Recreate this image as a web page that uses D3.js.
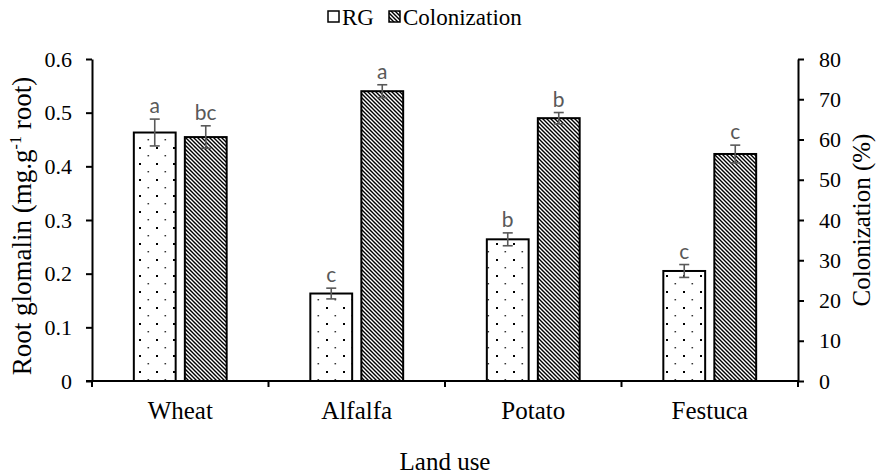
<!DOCTYPE html>
<html>
<head>
<meta charset="utf-8">
<script src="https://cdn.jsdelivr.net/npm/d3@7"></script>
<style>
  body { margin: 0; background: #fff; }
  svg { display: block; }
</style>
</head>
<body>
<div id="chart"></div>
<script>
const categories = ['Wheat', 'Alfalfa', 'Potato', 'Festuca'];
const rgValues = [0.463, 0.163, 0.264, 0.205];
const rgErrors = [0.025, 0.010, 0.012, 0.012];
const rgLetters = ['a', 'c', 'b', 'c'];
const colValues = [60.6, 72.0, 65.3, 56.4];
const colErrors = [2.8, 1.6, 1.4, 2.2];
const colLetters = ['bc', 'a', 'b', 'c'];
const leftTicks = [0, 0.1, 0.2, 0.3, 0.4, 0.5, 0.6];
const rightTicks = [0, 10, 20, 30, 40, 50, 60, 70, 80];

const W = 880, H = 474;
const margin = { top: 59, right: 82, bottom: 93, left: 92 };
const serif = '"Liberation Serif", "Times New Roman", serif';
const sans = 'Lato, Carlito, "Open Sans", sans-serif';

const svg = d3.select('#chart').append('svg').attr('width', W).attr('height', H);
const defs = svg.append('defs');

// dotted fill for RG
const dots = defs.append('pattern')
  .attr('id', 'dots').attr('patternUnits', 'userSpaceOnUse')
  .attr('width', 17).attr('height', 16);
dots.append('rect').attr('width', 17).attr('height', 16).attr('fill', '#fff');
dots.append('rect').attr('x', 3).attr('y', 3).attr('width', 2).attr('height', 2).attr('fill', '#000');
dots.append('rect').attr('x', 11.5).attr('y', 11).attr('width', 1.6).attr('height', 1.4).attr('fill', '#333');

// dark downward diagonal fill for Colonization
const diag = defs.append('pattern')
  .attr('id', 'diag').attr('patternUnits', 'userSpaceOnUse')
  .attr('width', 4).attr('height', 4);
diag.append('rect').attr('width', 4).attr('height', 4).attr('fill', '#fff');
diag.append('path')
  .attr('d', 'M-1,-1L5,5M-1,3L1,5M3,-1L5,1')
  .attr('stroke', '#000').attr('stroke-width', 1.4);

const x0 = d3.scaleBand().domain(categories)
  .range([margin.left, W - margin.right]).padding(0);
const x1 = d3.scaleBand().domain(['rg', 'col'])
  .range([0, x0.bandwidth()]).paddingInner(0.18).paddingOuter(0.82);
const yL = d3.scaleLinear().domain([0, 0.6]).range([H - margin.bottom, margin.top]);
const yR = d3.scaleLinear().domain([0, 80]).range([H - margin.bottom, margin.top]);

const y0 = H - margin.bottom;

// bars
const series = [
  { key: 'rg', vals: rgValues, errs: rgErrors, letters: rgLetters, y: yL, fill: 'url(#dots)' },
  { key: 'col', vals: colValues, errs: colErrors, letters: colLetters, y: yR, fill: 'url(#diag)' },
];

series.forEach((s) => {
  const g = svg.append('g').attr('class', 'bars-' + s.key);
  const rows = categories.map((c, i) => ({ c, v: s.vals[i], e: s.errs[i], l: s.letters[i] }));
  const bx = (d) => x0(d.c) + x1(s.key);
  const bw = x1.bandwidth();

  g.selectAll('rect').data(rows).enter().append('rect')
    .attr('x', bx).attr('width', bw)
    .attr('y', (d) => s.y(d.v)).attr('height', (d) => y0 - s.y(d.v))
    .attr('fill', s.fill).attr('stroke', '#000').attr('stroke-width', 2);

  const eb = g.selectAll('.err').data(rows).enter().append('g')
    .attr('stroke', '#595959').attr('stroke-width', 1.6);
  eb.append('line').attr('x1', (d) => bx(d) + bw / 2).attr('x2', (d) => bx(d) + bw / 2)
    .attr('y1', (d) => s.y(d.v + d.e)).attr('y2', (d) => s.y(d.v - d.e));
  [1, -1].forEach((sg) => {
    eb.append('line').attr('x1', (d) => bx(d) + bw / 2 - 5).attr('x2', (d) => bx(d) + bw / 2 + 5)
      .attr('y1', (d) => s.y(d.v + sg * d.e)).attr('y2', (d) => s.y(d.v + sg * d.e));
  });

  g.selectAll('.lbl').data(rows).enter().append('text')
    .attr('x', (d) => bx(d) + bw / 2)
    .attr('y', (d) => s.y(d.v + d.e) - 6)
    .attr('text-anchor', 'middle')
    .style('font-family', sans).style('font-size', '21px').style('fill', '#595959')
    .text((d) => d.l);
});

// axes
const axisStyle = (g) => {
  g.attr('font-family', null);
  g.selectAll('path.domain').attr('stroke', '#000').attr('stroke-width', 2);
  g.selectAll('.tick line').attr('stroke', '#000').attr('stroke-width', 2);
  g.selectAll('text').style('font-family', serif).style('font-size', '22px').style('fill', '#000');
};

svg.append('g').attr('transform', `translate(${margin.left},0)`)
  .call(d3.axisLeft(yL).tickValues(leftTicks).tickSize(6).tickSizeOuter(0)
    .tickPadding(14).tickFormat((d) => (d === 0 ? '0' : d3.format('.1f')(d))))
  .call(axisStyle);

svg.append('g').attr('transform', `translate(${W - margin.right},0)`)
  .call(d3.axisRight(yR).tickValues(rightTicks).tickSize(6).tickSizeOuter(0).tickPadding(15))
  .call(axisStyle);

// x axis with ticks at category boundaries
const xg = svg.append('g');
xg.append('line').attr('x1', margin.left - 6).attr('x2', W - margin.right)
  .attr('y1', y0).attr('y2', y0).attr('stroke', '#000').attr('stroke-width', 2);
const bounds = categories.map((c) => x0(c)).concat([x0.range()[1]]);
xg.selectAll('.xt').data(bounds).enter().append('line')
  .attr('x1', (d) => d).attr('x2', (d) => d).attr('y1', y0).attr('y2', y0 + 6)
  .attr('stroke', '#000').attr('stroke-width', 2);
xg.selectAll('.xl').data(categories).enter().append('text')
  .attr('x', (d) => x0(d) + x0.bandwidth() / 2).attr('y', 419)
  .attr('text-anchor', 'middle')
  .style('font-family', serif).style('font-size', '25px')
  .text((d) => d);

// axis titles
svg.append('text').attr('x', (margin.left + W - margin.right) / 2).attr('y', 470)
  .attr('text-anchor', 'middle').style('font-family', serif).style('font-size', '25px')
  .text('Land use');

const lt = svg.append('text')
  .attr('transform', `translate(31,${(margin.top + y0) / 2 + 6}) rotate(-90)`)
  .attr('text-anchor', 'middle').style('font-family', serif).style('font-size', '27px');
lt.append('tspan').text('Root glomalin (mg.g');
lt.append('tspan').attr('dy', -10).style('font-size', '16px').text('-1');
lt.append('tspan').attr('dy', 10).text(' root)');

svg.append('text')
  .attr('transform', `translate(870,${(margin.top + y0) / 2}) rotate(-90)`)
  .attr('text-anchor', 'middle').style('font-family', serif).style('font-size', '25px')
  .text('Colonization (%)');

// legend
const legend = svg.append('g');
const items = [
  { label: 'RG', fill: '#fff', x: 328 },
  { label: 'Colonization', fill: 'url(#diag)', x: 389 },
];
items.forEach((it) => {
  legend.append('rect').attr('x', it.x).attr('y', 11).attr('width', 11).attr('height', 11)
    .attr('fill', it.fill).attr('stroke', '#000').attr('stroke-width', 1.5);
  legend.append('text').attr('x', it.x + 14).attr('y', 25)
    .style('font-family', serif).style('font-size', '23px').text(it.label);
});
</script>
</body>
</html>
